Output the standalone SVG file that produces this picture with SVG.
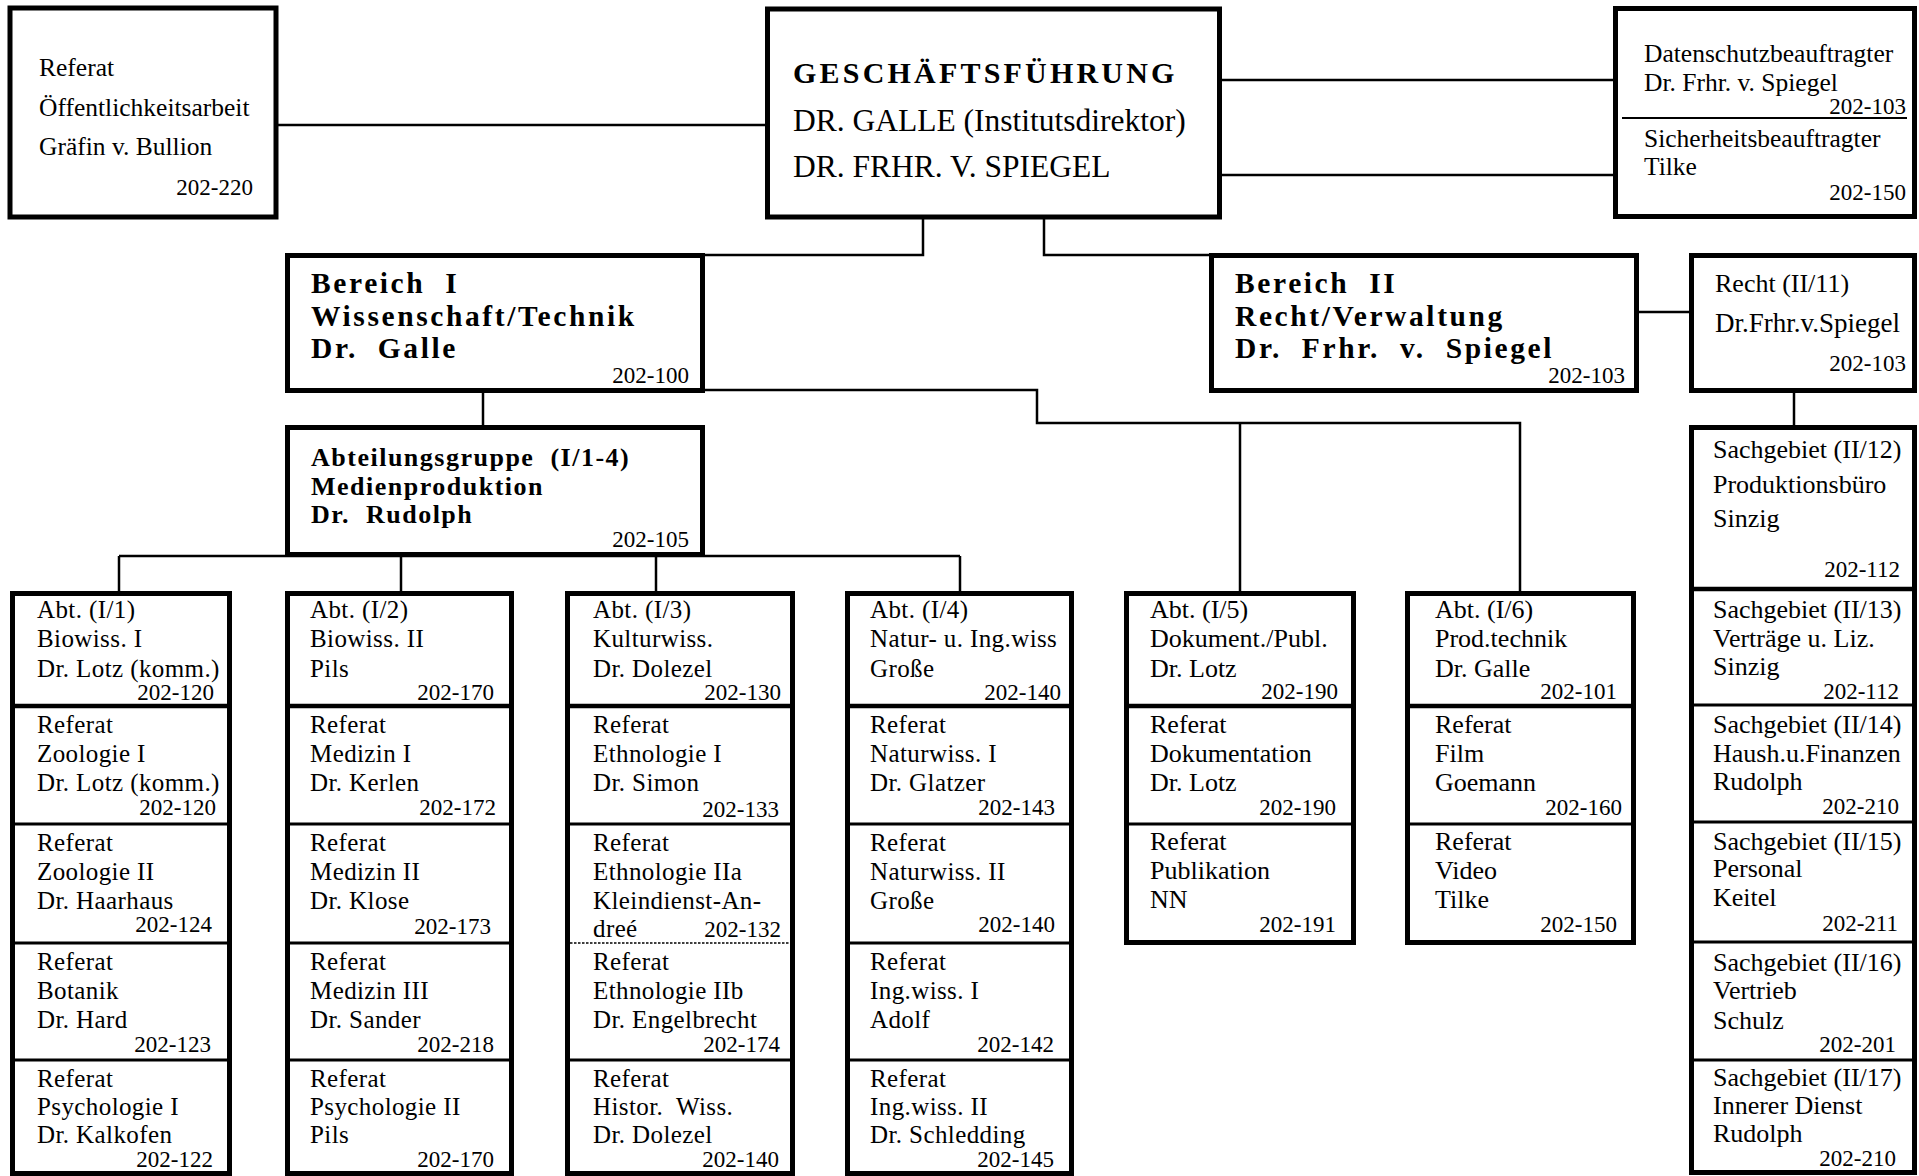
<svg xmlns="http://www.w3.org/2000/svg" width="1919" height="1176" viewBox="0 0 1919 1176">
<style>
text{font-family:"Liberation Serif","Times New Roman",serif;fill:#000;white-space:pre}
.box{fill:#fff;stroke:#000;stroke-width:5}
.div{stroke:#000;stroke-width:3;fill:none}
.hdiv{stroke:#000;stroke-width:4.5;fill:none}
.con{stroke:#000;stroke-width:2.5;fill:none}
.wavy{stroke:#000;stroke-width:1.6;fill:none;stroke-dasharray:2.5 1.5}
.t25{font-size:25.5px}
.gfb{font-size:30px;font-weight:bold;letter-spacing:3.2px}
.gf{font-size:31.5px}
.ber{font-size:29.5px;font-weight:bold;letter-spacing:2.6px}
.abg{font-size:26px;font-weight:bold;letter-spacing:1.5px}
.abt{font-size:25px;letter-spacing:0.4px}
.sg{font-size:26px}
.num{font-size:23px;text-anchor:end}
</style>
<rect width="1919" height="1176" fill="#fff"/>

<g id="connectors">
<path class="con" d="M278 125H765"/>
<path class="con" d="M1222 80H1613"/>
<path class="con" d="M1222 175H1613"/>
<path class="con" d="M923 219V255H703"/>
<path class="con" d="M1044 219V255H1212"/>
<path class="con" d="M1639 312H1689"/>
<path class="con" d="M1794 393V425"/>
<path class="con" d="M483 393V425"/>
<path class="con" d="M705 390H1037V423H1520V591"/>
<path class="con" d="M1240 423V591"/>
<path class="con" d="M119 556H960"/>
<path class="con" d="M119 556V591"/>
<path class="con" d="M401 556V591"/>
<path class="con" d="M656 556V591"/>
<path class="con" d="M960 556V591"/>
</g>

<g id="referat-oeffentlichkeitsarbeit">
<rect class="box" x="10" y="8" width="266" height="209"/>
<text class="t25" x="39" y="76">Referat</text>
<text class="t25" x="39" y="116">Öffentlichkeitsarbeit</text>
<text class="t25" x="39" y="155">Gräfin v. Bullion</text>
<text class="num" x="253" y="195">202-220</text>
</g>

<g id="geschaeftsfuehrung">
<rect class="box" x="767.5" y="9" width="452" height="208"/>
<text class="gfb" x="793" y="83">GESCHÄFTSFÜHRUNG</text>
<text class="gf" x="793" y="131">DR. GALLE (Institutsdirektor)</text>
<text class="gf" x="793" y="177">DR. FRHR. V. SPIEGEL</text>
</g>

<g id="datenschutz-sicherheit">
<rect class="box" x="1615.5" y="8.5" width="299" height="208"/>
<path d="M1622 118H1907" stroke="#000" stroke-width="2"/>
<text class="t25" x="1644" y="62">Datenschutzbeauftragter</text>
<text class="t25" x="1644" y="91">Dr. Frhr. v. Spiegel</text>
<text class="num" x="1906" y="114">202-103</text>
<text class="t25" x="1644" y="147">Sicherheitsbeauftragter</text>
<text class="t25" x="1644" y="175">Tilke</text>
<text class="num" x="1906" y="200">202-150</text>
</g>

<g id="bereich-1">
<rect class="box" x="287.5" y="255.5" width="415" height="135"/>
<text class="ber" x="311" y="293">Bereich  I</text>
<text class="ber" x="311" y="326">Wissenschaft/Technik</text>
<text class="ber" x="311" y="358">Dr.  Galle</text>
<text class="num" x="689" y="383">202-100</text>
</g>

<g id="bereich-2">
<rect class="box" x="1211.5" y="255.5" width="425" height="135"/>
<text class="ber" x="1235" y="293">Bereich  II</text>
<text class="ber" x="1235" y="326">Recht/Verwaltung</text>
<text class="ber" x="1235" y="358">Dr.  Frhr.  v.  Spiegel</text>
<text class="num" x="1625" y="383">202-103</text>
</g>

<g id="recht">
<rect class="box" x="1691.5" y="255.5" width="223" height="135"/>
<text class="sg" x="1715" y="292">Recht (II/11)</text>
<text class="sg" x="1715" y="332" style="font-size:27px">Dr.Frhr.v.Spiegel</text>
<text class="num" x="1906" y="371">202-103</text>
</g>

<g id="abteilungsgruppe">
<rect class="box" x="287.5" y="427.5" width="415" height="127"/>
<text class="abg" x="311" y="466">Abteilungsgruppe  (I/1-4)</text>
<text class="abg" x="311" y="495">Medienproduktion</text>
<text class="abg" x="311" y="523">Dr.  Rudolph</text>
<text class="num" x="689" y="547">202-105</text>
</g>

<g id="abt-1">
<rect class="box" x="12.5" y="593.5" width="217" height="580"/>
<path class="hdiv" d="M12 706H230"/>
<path class="div" d="M12 824H230M12 943H230M12 1060H230"/>
<g id="abt-1-head"><text class="abt" x="37" y="618">Abt. (I/1)</text><text class="abt" x="37" y="647">Biowiss. I</text><text class="abt" x="37" y="677">Dr. Lotz (komm.)</text><text class="num" x="214" y="700">202-120</text></g>
<g id="ref-zoologie-1"><text class="abt" x="37" y="733">Referat</text><text class="abt" x="37" y="762">Zoologie I</text><text class="abt" x="37" y="791">Dr. Lotz (komm.)</text><text class="num" x="216" y="815">202-120</text></g>
<g id="ref-zoologie-2"><text class="abt" x="37" y="851">Referat</text><text class="abt" x="37" y="880">Zoologie II</text><text class="abt" x="37" y="909">Dr. Haarhaus</text><text class="num" x="212" y="932">202-124</text></g>
<g id="ref-botanik"><text class="abt" x="37" y="970">Referat</text><text class="abt" x="37" y="999">Botanik</text><text class="abt" x="37" y="1028">Dr. Hard</text><text class="num" x="211" y="1052">202-123</text></g>
<g id="ref-psychologie-1"><text class="abt" x="37" y="1087">Referat</text><text class="abt" x="37" y="1115">Psychologie I</text><text class="abt" x="37" y="1143">Dr. Kalkofen</text><text class="num" x="213" y="1167">202-122</text></g>
</g>

<g id="abt-2">
<rect class="box" x="287.5" y="593.5" width="224" height="580"/>
<path class="hdiv" d="M287 706H512"/>
<path class="div" d="M287 824H512M287 943H512M287 1060H512"/>
<g id="abt-2-head"><text class="abt" x="310" y="618">Abt. (I/2)</text><text class="abt" x="310" y="647">Biowiss. II</text><text class="abt" x="310" y="677">Pils</text><text class="num" x="494" y="700">202-170</text></g>
<g id="ref-medizin-1"><text class="abt" x="310" y="733">Referat</text><text class="abt" x="310" y="762">Medizin I</text><text class="abt" x="310" y="791">Dr. Kerlen</text><text class="num" x="496" y="815">202-172</text></g>
<g id="ref-medizin-2"><text class="abt" x="310" y="851">Referat</text><text class="abt" x="310" y="880">Medizin II</text><text class="abt" x="310" y="909">Dr. Klose</text><text class="num" x="491" y="934">202-173</text></g>
<g id="ref-medizin-3"><text class="abt" x="310" y="970">Referat</text><text class="abt" x="310" y="999">Medizin III</text><text class="abt" x="310" y="1028">Dr. Sander</text><text class="num" x="494" y="1052">202-218</text></g>
<g id="ref-psychologie-2"><text class="abt" x="310" y="1087">Referat</text><text class="abt" x="310" y="1115">Psychologie II</text><text class="abt" x="310" y="1143">Pils</text><text class="num" x="494" y="1167">202-170</text></g>
</g>

<g id="abt-3">
<rect class="box" x="567.5" y="593.5" width="225" height="580"/>
<path class="hdiv" d="M567 706H793"/>
<path class="div" d="M567 824H793M567 1060H793"/>
<path class="wavy" d="M570 943H790"/>
<g id="abt-3-head"><text class="abt" x="593" y="618">Abt. (I/3)</text><text class="abt" x="593" y="647">Kulturwiss.</text><text class="abt" x="593" y="677">Dr. Dolezel</text><text class="num" x="781" y="700">202-130</text></g>
<g id="ref-ethnologie-1"><text class="abt" x="593" y="733">Referat</text><text class="abt" x="593" y="762">Ethnologie I</text><text class="abt" x="593" y="791">Dr. Simon</text><text class="num" x="779" y="817">202-133</text></g>
<g id="ref-ethnologie-2a"><text class="abt" x="593" y="851">Referat</text><text class="abt" x="593" y="880">Ethnologie IIa</text><text class="abt" x="593" y="909">Kleindienst-An-</text><text class="abt" x="593" y="937">dreé</text><text class="num" x="781" y="937">202-132</text></g>
<g id="ref-ethnologie-2b"><text class="abt" x="593" y="970">Referat</text><text class="abt" x="593" y="999">Ethnologie IIb</text><text class="abt" x="593" y="1028">Dr. Engelbrecht</text><text class="num" x="780" y="1052">202-174</text></g>
<g id="ref-histor-wiss"><text class="abt" x="593" y="1087">Referat</text><text class="abt" x="593" y="1115">Histor.  Wiss.</text><text class="abt" x="593" y="1143">Dr. Dolezel</text><text class="num" x="779" y="1167">202-140</text></g>
</g>

<g id="abt-4">
<rect class="box" x="847.5" y="593.5" width="224" height="580"/>
<path class="hdiv" d="M847 706H1072"/>
<path class="div" d="M847 824H1072M847 943H1072M847 1060H1072"/>
<g id="abt-4-head"><text class="abt" x="870" y="618">Abt. (I/4)</text><text class="abt" x="870" y="647">Natur- u. Ing.wiss</text><text class="abt" x="870" y="677">Große</text><text class="num" x="1061" y="700">202-140</text></g>
<g id="ref-naturwiss-1"><text class="abt" x="870" y="733">Referat</text><text class="abt" x="870" y="762">Naturwiss. I</text><text class="abt" x="870" y="791">Dr. Glatzer</text><text class="num" x="1055" y="815">202-143</text></g>
<g id="ref-naturwiss-2"><text class="abt" x="870" y="851">Referat</text><text class="abt" x="870" y="880">Naturwiss. II</text><text class="abt" x="870" y="909">Große</text><text class="num" x="1055" y="932">202-140</text></g>
<g id="ref-ingwiss-1"><text class="abt" x="870" y="970">Referat</text><text class="abt" x="870" y="999">Ing.wiss. I</text><text class="abt" x="870" y="1028">Adolf</text><text class="num" x="1054" y="1052">202-142</text></g>
<g id="ref-ingwiss-2"><text class="abt" x="870" y="1087">Referat</text><text class="abt" x="870" y="1115">Ing.wiss. II</text><text class="abt" x="870" y="1143">Dr. Schledding</text><text class="num" x="1054" y="1167">202-145</text></g>
</g>

<g id="abt-5">
<rect class="box" x="1126.5" y="593.5" width="227" height="349"/>
<path class="hdiv" d="M1126 706H1354"/>
<path class="div" d="M1126 824H1354"/>
<g id="abt-5-head"><text class="sg" x="1150" y="618">Abt. (I/5)</text><text class="sg" x="1150" y="647">Dokument./Publ.</text><text class="sg" x="1150" y="677">Dr. Lotz</text><text class="num" x="1338" y="699">202-190</text></g>
<g id="ref-dokumentation"><text class="sg" x="1150" y="733">Referat</text><text class="sg" x="1150" y="762">Dokumentation</text><text class="sg" x="1150" y="791">Dr. Lotz</text><text class="num" x="1336" y="815">202-190</text></g>
<g id="ref-publikation"><text class="sg" x="1150" y="850">Referat</text><text class="sg" x="1150" y="879">Publikation</text><text class="sg" x="1150" y="908">NN</text><text class="num" x="1336" y="932">202-191</text></g>
</g>

<g id="abt-6">
<rect class="box" x="1407.5" y="593.5" width="226" height="349"/>
<path class="hdiv" d="M1407 706H1634"/>
<path class="div" d="M1407 824H1634"/>
<g id="abt-6-head"><text class="sg" x="1435" y="618">Abt. (I/6)</text><text class="sg" x="1435" y="647">Prod.technik</text><text class="sg" x="1435" y="677">Dr. Galle</text><text class="num" x="1617" y="699">202-101</text></g>
<g id="ref-film"><text class="sg" x="1435" y="733">Referat</text><text class="sg" x="1435" y="762">Film</text><text class="sg" x="1435" y="791">Goemann</text><text class="num" x="1622" y="815">202-160</text></g>
<g id="ref-video"><text class="sg" x="1435" y="850">Referat</text><text class="sg" x="1435" y="879">Video</text><text class="sg" x="1435" y="908">Tilke</text><text class="num" x="1617" y="932">202-150</text></g>
</g>

<g id="sachgebiete">
<rect class="box" x="1691.5" y="427.5" width="223" height="745"/>
<path class="hdiv" d="M1691 589H1915"/>
<path class="div" d="M1691 705H1915M1691 822H1915M1691 942H1915M1691 1060H1915"/>
<g id="sg-12"><text class="sg" x="1713" y="458">Sachgebiet (II/12)</text><text class="sg" x="1713" y="493">Produktionsbüro</text><text class="sg" x="1713" y="527">Sinzig</text><text class="num" x="1900" y="577">202-112</text></g>
<g id="sg-13"><text class="sg" x="1713" y="618">Sachgebiet (II/13)</text><text class="sg" x="1713" y="647">Verträge u. Liz.</text><text class="sg" x="1713" y="675">Sinzig</text><text class="num" x="1899" y="699">202-112</text></g>
<g id="sg-14"><text class="sg" x="1713" y="733">Sachgebiet (II/14)</text><text class="sg" x="1713" y="762">Haush.u.Finanzen</text><text class="sg" x="1713" y="790">Rudolph</text><text class="num" x="1899" y="814">202-210</text></g>
<g id="sg-15"><text class="sg" x="1713" y="850">Sachgebiet (II/15)</text><text class="sg" x="1713" y="877">Personal</text><text class="sg" x="1713" y="906">Keitel</text><text class="num" x="1898" y="931">202-211</text></g>
<g id="sg-16"><text class="sg" x="1713" y="971">Sachgebiet (II/16)</text><text class="sg" x="1713" y="999">Vertrieb</text><text class="sg" x="1713" y="1029">Schulz</text><text class="num" x="1896" y="1052">202-201</text></g>
<g id="sg-17"><text class="sg" x="1713" y="1086">Sachgebiet (II/17)</text><text class="sg" x="1713" y="1114">Innerer Dienst</text><text class="sg" x="1713" y="1142">Rudolph</text><text class="num" x="1896" y="1166">202-210</text></g>
</g>
</svg>
